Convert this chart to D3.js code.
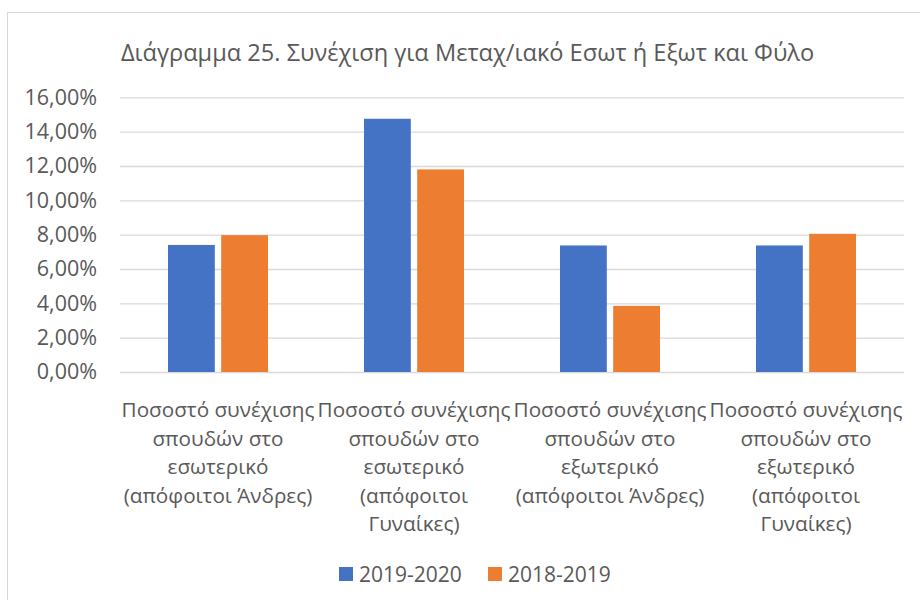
<!DOCTYPE html>
<html>
<head>
<meta charset="utf-8">
<script src="https://cdn.jsdelivr.net/npm/d3@7"></script>
<style>
  html, body { margin: 0; padding: 0; background: #fff; }
  svg { display: block; }
  text { font-family: "Open Sans", "Noto Sans", sans-serif; fill: #595959; }
</style>
</head>
<body>
<svg id="chart" width="920" height="600"></svg>
<script>
// ---- data ----
const title = "Διάγραμμα 25. Συνέχιση για Μεταχ/ιακό Εσωτ ή Εξωτ και Φύλο";
const categories = [
  "Ποσοστό συνέχισης σπουδών στο εσωτερικό (απόφοιτοι Άνδρες)",
  "Ποσοστό συνέχισης σπουδών στο εσωτερικό (απόφοιτοι Γυναίκες)",
  "Ποσοστό συνέχισης σπουδών στο εξωτερικό (απόφοιτοι Άνδρες)",
  "Ποσοστό συνέχισης σπουδών στο εξωτερικό (απόφοιτοι Γυναίκες)"
];
const categoryLines = [
  ["Ποσοστό συνέχισης", "σπουδών στο", "εσωτερικό", "(απόφοιτοι Άνδρες)"],
  ["Ποσοστό συνέχισης", "σπουδών στο", "εσωτερικό", "(απόφοιτοι", "Γυναίκες)"],
  ["Ποσοστό συνέχισης", "σπουδών στο", "εξωτερικό", "(απόφοιτοι Άνδρες)"],
  ["Ποσοστό συνέχισης", "σπουδών στο", "εξωτερικό", "(απόφοιτοι", "Γυναίκες)"]
];
const seriesNames = ["2019-2020", "2018-2019"];
const values2019_2020 = [0.0740, 0.1475, 0.0737, 0.0737];
const values2018_2019 = [0.0797, 0.1180, 0.0385, 0.0805];
const yTicks = [0, 0.02, 0.04, 0.06, 0.08, 0.10, 0.12, 0.14, 0.16];
const colors = ["#4472C4", "#ED7D31"];

// ---- layout ----
const svg = d3.select("#chart");
const plot = { left: 120, right: 904, top: 97.3, bottom: 372 };

svg.append("rect")
  .attr("x", 7.5).attr("y", 12.5)
  .attr("width", 930).attr("height", 600)
  .attr("fill", "#fff").attr("stroke", "#D9D9D9").attr("stroke-width", 1);

svg.append("text")
  .attr("x", 467.5).attr("y", 52)
  .attr("text-anchor", "middle").attr("dominant-baseline", "central")
  .style("font-size", "23.6px")
  .text(title);

const locale = d3.formatLocale({ decimal: ",", thousands: ".", grouping: [3], currency: ["", "€"] });
const fmt = locale.format(".2%");

const x0 = d3.scaleBand().domain(categories).range([plot.left, plot.right]).paddingInner(0).paddingOuter(0);
const x1 = d3.scaleBand().domain(seriesNames).range([48, 148]).paddingInner(0.12).paddingOuter(0);
const y = d3.scaleLinear().domain([0, 0.16]).range([plot.bottom, plot.top]);

// gridlines
const yAxis = d3.axisLeft(y).tickValues(yTicks).tickFormat(fmt)
  .tickSize(-(plot.right - plot.left)).tickPadding(23);
const gy = svg.append("g").attr("transform", `translate(${plot.left},0)`).call(yAxis);
gy.select(".domain").remove();
gy.selectAll(".tick line").attr("stroke", "#D9D9D9").attr("stroke-width", 1.3);
gy.selectAll(".tick text").style("font-size", "21.5px").attr("fill", "#595959")
  .style("font-family", "\"Open Sans\", \"Noto Sans\", sans-serif");

// bars
const series = [values2019_2020, values2018_2019];
const groups = svg.append("g").selectAll("g")
  .data(categories).join("g")
  .attr("transform", d => `translate(${x0(d)},0)`);
groups.selectAll("rect")
  .data((d, i) => seriesNames.map((s, j) => ({ s, v: series[j][i], c: colors[j] })))
  .join("rect")
  .attr("x", d => x1(d.s))
  .attr("width", x1.bandwidth())
  .attr("y", d => y(d.v))
  .attr("height", d => y(0) - y(d.v))
  .attr("fill", d => d.c);

// x labels
const xl = svg.append("g");
categories.forEach((c, i) => {
  const cx = x0(c) + x0.bandwidth() / 2;
  const t = xl.append("text")
    .attr("x", cx)
    .attr("y", 409)
    .attr("text-anchor", "middle")
    .style("font-size", "20.7px");
  categoryLines[i].forEach((ln, k) => {
    t.append("tspan").attr("x", cx)
      .attr("y", 409 + k * 28.5).attr("dominant-baseline", "central").text(ln);
  });
});

// legend
const legend = svg.append("g");
const legendX = [339, 488];
seriesNames.forEach((s, i) => {
  legend.append("rect").attr("x", legendX[i]).attr("y", 567).attr("width", 14).attr("height", 14).attr("fill", colors[i]);
  legend.append("text").attr("x", legendX[i] + 20).attr("y", 574)
    .attr("dominant-baseline", "central").style("font-size", "21px").text(s);
});
</script>
</body>
</html>
